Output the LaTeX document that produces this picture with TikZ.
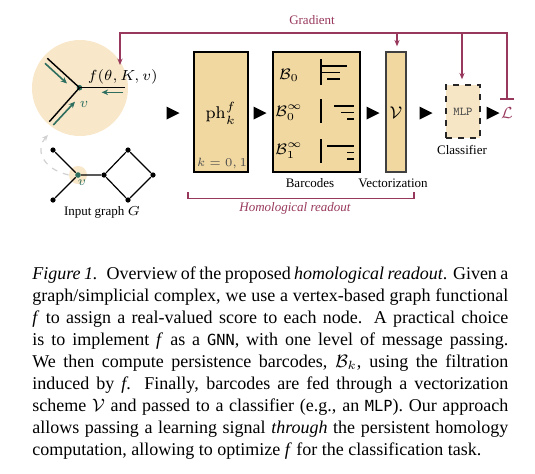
\RequirePackage{fix-cm}
\documentclass[tikz,border=0pt]{standalone}
\usepackage[no-math]{fontspec}
\setmainfont{Liberation Serif}
\newfontfamily\capmono[Scale=0.85]{DejaVu Sans Mono}
\usetikzlibrary{arrows.meta,calc}
\definecolor{tanbox}{RGB}{241,216,161}
\definecolor{circfill}{RGB}{248,231,201}
\definecolor{mlpfill}{RGB}{247,230,198}
\definecolor{gradc}{RGB}{152,56,92}
\definecolor{greenc}{RGB}{45,110,95}
\tikzset{
  lbl/.style={font=\fontsize{6.5}{8}\selectfont, inner sep=0pt},
  stagebox/.style={draw=black, line width=0.7pt, fill=tanbox, inner sep=0pt},
  gline/.style={draw=gradc, line width=0.8pt},
  gtip/.style={-{Stealth[length=3.2pt,width=2.6pt]}},
  greenarrow/.style={draw=greenc, line width=0.8pt, -{Stealth[length=3.2pt,width=2.8pt]}},
  edge/.style={draw=black, line width=0.7pt},
  gedge/.style={draw=black, line width=0.6pt},
  smalldot/.style={circle, fill=black, inner sep=0pt, minimum size=2.6pt},
  bar/.style={line width=0.75pt},
  blabel/.style={font=\fontsize{7.6}{9}\selectfont, inner sep=0pt},
  tri/.style={fill=black},
}
\begin{document}
\begin{tikzpicture}[x=0.5pt, y=-0.5pt]
\useasboundingbox (0,0) rectangle (535,473);

% zoom circle
\node[circle, fill=circfill, minimum size=48pt, inner sep=0pt] (zoomc) at (80,88) {};
\node[circle, fill=greenc, inner sep=0pt, minimum size=2.8pt] (cv) at (79.5,87.7) {};
\coordinate (cul) at (47.3,58.3);
\coordinate (cll) at (49.3,121.7);
\coordinate (cr) at (125,87.7);
\draw[edge] (cul) -- (cv.center);
\draw[edge] (cll) -- (cv.center);
\draw[edge] (cr) -- (cv.center);
\coordinate (gua) at (45,63.3); \coordinate (gub) at (67,83.5);
\coordinate (gla) at (53.3,125); \coordinate (glb) at (75,101.7);
\coordinate (gra) at (123.3,92.3); \coordinate (grb) at (101.7,92.3);
\draw[greenarrow] (gua) -- (gub);
\draw[greenarrow] (gla) -- (glb);
\draw[greenarrow] (gra) -- (grb);
\node[font=\fontsize{7.3}{9}\selectfont, inner sep=0pt, anchor=west] (flab) at (87.5,76.5) {$f(\theta, K, v)$};
\node[font=\fontsize{7}{8}\selectfont, text=greenc, inner sep=0pt] (vlab) at (84,104) {$v$};

% input graph
\node[circle, fill=circfill, minimum size=9pt, inner sep=0pt] (vhl) at (78,175) {};
\node[circle, fill=greenc, inner sep=0pt, minimum size=2.8pt] (gv) at (78,175) {};
\node[smalldot] (g1) at (53,150) {};
\node[smalldot] (g2) at (53,200) {};
\node[smalldot] (g3) at (104,175) {};
\node[smalldot] (g4) at (128,150) {};
\node[smalldot] (g5) at (153,175) {};
\node[smalldot] (g6) at (128,200) {};
\draw[gedge] (g1) -- (gv) -- (g2);
\draw[gedge] (gv) -- (g3) -- (g4) -- (g5) -- (g6) -- (g3);
\node[font=\fontsize{6.5}{8}\selectfont, text=greenc, inner sep=0pt] (gvlab) at (82,183) {$v$};
\draw[dashed, draw=black!18, line width=0.6pt, -{Stealth[length=3pt,width=2.6pt]}] (vhl.west) .. controls (40,168) and (36,148) .. (48,135);
\node[lbl] (inlab) at (102,212) {Input graph $G$};

% ph box
\node[stagebox, minimum width=27pt, minimum height=60pt] (ph) at (221,112) {};
\node[font=\fontsize{8.5}{10}\selectfont, inner sep=0pt] (phlab) at (221,113) {$\mathrm{ph}_k^f$};
\node[font=\fontsize{6}{7}\selectfont, text=black!70, inner sep=0pt] (klab) at (222,163) {$k=0,1$};

% barcodes box
\node[stagebox, minimum width=43.5pt, minimum height=60pt] (bc) at (316.5,112) {};
\node[blabel] (b0) at (289,75) {$\mathcal{B}_0$};
\node[blabel] (b0i) at (289,113) {$\mathcal{B}^\infty_0$};
\node[blabel] (b1i) at (289,151) {$\mathcal{B}^\infty_1$};
% bars row 1
\draw[line width=0.55pt] (321,59) -- (321,85);
\draw[bar] (321,66) -- (347,66);
\draw[bar] (321,72.5) -- (340,72.5);
\draw[bar] (327,79) -- (340,79);
% bars row 2
\draw[line width=0.55pt] (321,99) -- (321,123);
\draw[bar] (334,106) -- (354,106);
\draw[bar] (341,112.5) -- (354,112.5);
\draw[bar] (347,119) -- (354,119);
% bars row 3
\draw[line width=0.55pt] (321,139) -- (321,163);
\draw[bar] (327,146) -- (354,146);
\draw[bar] (347,152.5) -- (354,152.5);
\draw[bar] (347,159) -- (354,159);
\node[lbl] (bclab) at (310,183) {Barcodes};

% vectorization box
\node[draw=black!75, line width=0.7pt, fill=tanbox, inner sep=0pt, minimum width=10pt, minimum height=60pt] (vec) at (396,112) {};
\node[font=\fontsize{8.5}{10}\selectfont, inner sep=0pt] (veclab) at (396,113) {$\mathcal{V}$};
\node[lbl] (vecname) at (393,183) {Vectorization};

% MLP
\node[draw=black!85, dashed, line width=0.7pt, fill=mlpfill, inner sep=0pt, minimum width=17pt, minimum height=26.5pt] (mlp) at (463,111.5) {};
\node[font=\fontsize{6}{7}\ttfamily, text=black!70, inner sep=0pt] (mlplab) at (463,112) {MLP};
\node[lbl] (clflab) at (462,150) {Classifier};

% loss
\node[font=\fontsize{8}{9}\selectfont, text=gradc, inner sep=0pt] (loss) at (507,113) {$\mathcal{L}$};

% separator triangles
\foreach \cx in {173,260,373,426,493} {
  \fill[tri] (\cx-6.5,106.5) -- (\cx+6.5,113) -- (\cx-6.5,119.5) -- cycle;
}

% gradient
\coordinate (gstart) at (507,100);
\coordinate (gtr) at (507,33);
\coordinate (gtl) at (120,33);
\coordinate (gend) at (120,65);
\coordinate (gv1) at (397,33);
\coordinate (gm1) at (462,33);
\draw[gline, {Bar[width=7pt,line width=0.8pt]}-{Stealth[length=3.2pt,width=2.6pt]}] (gstart) -- (gtr) -- (gtl) -- (gend);
\draw[gline, gtip, shorten >=2.5pt] (gv1) -- (vec.north -| gv1);
\draw[gline, gtip, shorten >=2.5pt] (gm1) -- (mlp.north -| gm1);
\node[lbl, text=gradc] (gradlab) at (312,20.5) {Gradient};

% homological readout bracket
\coordinate (hb1) at (188,192);
\coordinate (hb2) at (414,192);
\draw[draw=gradc, line width=0.6pt] (hb1) -- (188,198.5) -- (414,198.5) -- (hb2);
\node[lbl, text=gradc, font=\fontsize{6.5}{8}\itshape] (hrlab) at (295,208.5) {Homological readout};

% caption
\node[anchor=north west, inner sep=0pt, text width=238pt, align=justify,
      font=\fontsize{9}{11}\selectfont] (cap) at (32,263.6) {%
\strut\textit{Figure 1.}\enspace Overview of the proposed \textit{homological readout}. Given a\linebreak
graph/simplicial complex, we use a vertex-based graph functional\linebreak
\textit{f} to assign a real-valued score to each node. A practical choice\linebreak
is to implement \textit{f} as a {\capmono GNN}, with one level of message passing.\linebreak
We then compute persistence barcodes, $\mathcal{B}_k$, using the filtration\linebreak
induced by \textit{f}. Finally, barcodes are fed through a vectorization\linebreak
scheme $\mathcal{V}$ and passed to a classifier (e.g., an {\capmono MLP}). Our approach\linebreak
allows passing a learning signal \textit{through} the persistent homology\linebreak
computation, allowing to optimize \textit{f} for the classification task.};
\end{tikzpicture}
\end{document}
